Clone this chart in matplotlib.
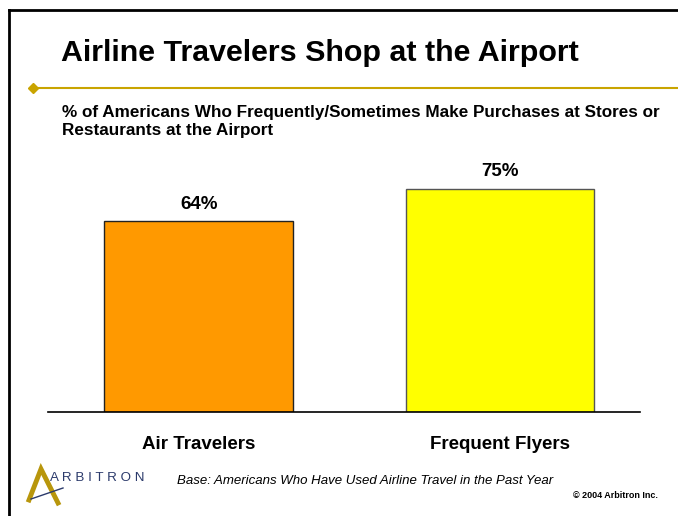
import matplotlib.pyplot as plt
from matplotlib.lines import Line2D

plt.rcParams['font.family'] = ['Liberation Sans', 'DejaVu Sans']

# Data
categories = ["Air Travelers", "Frequent Flyers"]
values = [64, 75]
value_labels = ["64%", "75%"]
bar_colors = ["#FF9900", "#FFFF00"]

W, H = 678, 516
fig = plt.figure(figsize=(W / 100, H / 100), dpi=100)

def fx(px):
    return px / W

def fy(py):
    return 1 - py / H

# Slide frame (left and top edges visible)
fig.add_artist(Line2D([fx(9), fx(9)], [fy(10), fy(516)], color="black", lw=2))
fig.add_artist(Line2D([fx(9), fx(678)], [fy(10), fy(10)], color="black", lw=2))

# Title and gold rule
fig.text(fx(61), fy(53), "Airline Travelers Shop at the Airport",
         fontsize=21.9, fontweight="bold", va="center", ha="left")
fig.add_artist(Line2D([fx(33), fx(678)], [fy(88), fy(88)], color="#C9A400", lw=1.5))
fig.add_artist(Line2D([fx(33)], [fy(88)], marker="D", markersize=5,
                      color="#C9A400", lw=0))

# Subtitle
fig.text(fx(62), fy(121),
         "% of Americans Who Frequently/Sometimes Make Purchases at Stores or\n"
         "Restaurants at the Airport",
         fontsize=12.3, fontweight="bold", va="center", ha="left", linespacing=1.25)

# Bars
ax = fig.add_axes([fx(48), fy(412), fx(640) - fx(48), fy(114) - fy(412)])
x = [0, 1]
ax.bar(x, values, width=0.625, color=bar_colors, edgecolor=["#222222", "#555555"],
       linewidth=1)
for xi, v, lab in zip(x, values, value_labels):
    ax.text(xi, v + 2.8, lab, ha="center", va="bottom", fontsize=13.5, fontweight="bold")
ax.set_xlim(-0.5, 1.465)
ax.set_ylim(0, 100)
for s in ["top", "right", "left"]:
    ax.spines[s].set_visible(False)
ax.spines["bottom"].set_linewidth(1.2)
ax.set_yticks([])
ax.set_xticks(x)
ax.set_xticklabels(categories, fontsize=13.5, fontweight="bold")
ax.tick_params(axis="x", length=0, pad=17)

# Footer
fig.add_artist(Line2D([fx(29), fx(41), fx(58)], [fy(500), fy(469), fy(503)],
                      color="#B8960C", lw=3.5, solid_joinstyle="miter"))
fig.add_artist(Line2D([fx(31), fx(63)], [fy(499), fy(488)], color="#2B3A6B", lw=1))
fig.text(fx(50), fy(478), "A R B I T R O N", fontsize=9.6, color="#2B3A6B",
         fontweight="medium", va="center", ha="left")
fig.text(fx(177), fy(481), "Base: Americans Who Have Used Airline Travel in the Past Year",
         fontsize=9.5, style="italic", va="center", ha="left")
fig.text(fx(658), fy(495), "© 2004 Arbitron Inc.", fontsize=6.5, fontweight="bold",
         va="center", ha="right")

fig.savefig("out.png", dpi=100)
